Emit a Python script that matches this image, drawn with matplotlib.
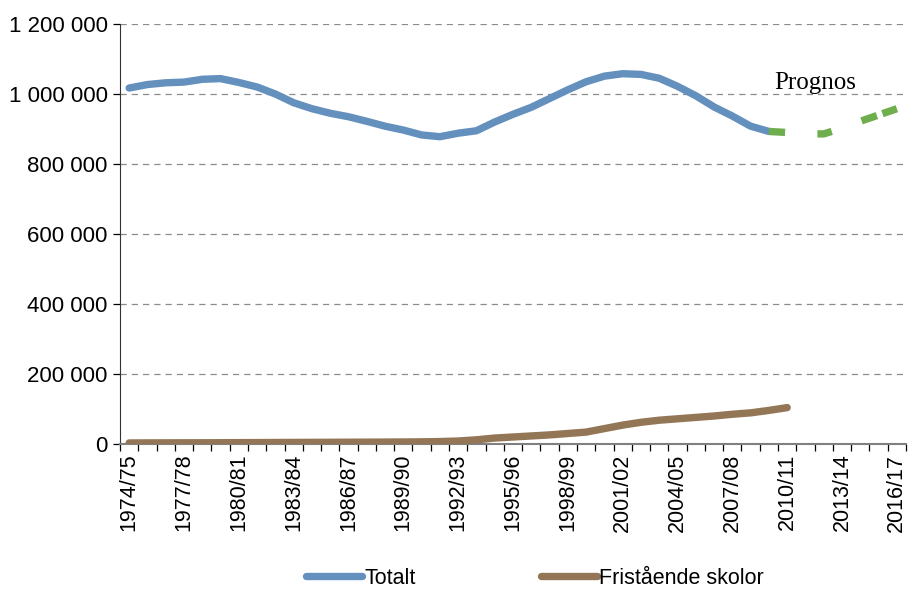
import numpy as np
import matplotlib
matplotlib.use("Agg")
from matplotlib import pyplot as plt
from matplotlib.lines import Line2D

plt.rcParams['font.family'] = ['Liberation Sans', 'DejaVu Sans']

# lasår 1974/75 .. 2016/17
years = ["%d/%02d" % (y, (y + 1) % 100) for y in range(1974, 2017)]

# Totalt, 1974/75 .. 2009/10
totalt = [1017000, 1027000, 1032000, 1034000, 1042000, 1044000, 1033000, 1020000,
          1000000, 975000, 958000, 945000, 935000, 922000, 908000, 897000,
          883000, 878000, 888000, 895000, 920000, 942000, 962000, 987000,
          1012000, 1035000, 1051000, 1058000, 1056000, 1045000, 1022000, 995000,
          963000, 937000, 908000, 893000]

# Prognos, 2009/10 .. 2016/17
prognos = [893000, 890000, 886000, 886000, 902000, 922000, 940000, 958000]

# Fristående skolor, 1974/75 .. 2010/11
fristaende = [3000, 3200, 3300, 3400, 3500, 3700, 3900, 4100, 4300, 4500, 4700,
              4900, 5100, 5300, 5500, 5800, 6200, 7000, 8500, 12000, 17000, 20000,
              23000, 26000, 30000, 34000, 44000, 54000, 62000, 68000, 72000, 76000,
              80000, 85000, 89000, 96000, 104000]

yticks = [0, 200000, 400000, 600000, 800000, 1000000, 1200000]

blue = "#6490BE"
brown = "#927656"
green = "#6EAE4D"
lw = 5.3

fig = plt.figure(figsize=(9.13, 5.90), dpi=100)
ax = fig.add_axes([120 / 913, 1 - 444 / 590, 786 / 913, 420 / 590])

x_tot = np.arange(len(totalt))
x_pro = np.arange(len(totalt) - 1, len(totalt) - 1 + len(prognos))
x_fri = np.arange(len(fristaende))

ax.plot(x_tot, totalt, color=blue, lw=lw, solid_capstyle='round', solid_joinstyle='round', zorder=3)
ax.plot(x_pro, prognos, color=green, lw=lw, linestyle=(0, (2.2, 4.4, 2.0, 4.3, 2.2, 0.8)),
        dash_capstyle='butt', zorder=3)
ax.plot(x_fri, fristaende, color=brown, lw=lw, solid_capstyle='round', solid_joinstyle='round', zorder=3)

ax.text(35.3, 1000000, "Prognos", family=['Liberation Serif', 'DejaVu Serif'], fontsize=18, ha='left', va='bottom')

ax.set_xlim(-0.5, len(years) - 0.5)
ax.set_ylim(0, 1200000)
ax.set_yticks(yticks)
ax.set_yticklabels(["{:,}".format(v).replace(",", " ") for v in yticks], fontsize=16)
ax.yaxis.grid(True, linestyle=(0, (5, 4)), color="#8c8c8c", lw=0.9)
ax.set_axisbelow(True)

ax.set_xticks(np.arange(0, len(years), 3))
ax.set_xticklabels(years[::3], rotation=90, fontsize=15.5)
ax.set_xticks(np.arange(-0.5, len(years), 1), minor=True)
ax.tick_params(axis='x', which='major', length=0, pad=7)
ax.tick_params(axis='x', which='minor', length=5, width=0.9, direction='out')
ax.tick_params(axis='y', length=5, width=0.9, direction='out', pad=4)

for s in ['top', 'right']:
    ax.spines[s].set_visible(False)
ax.spines['left'].set_color("#333333")
ax.spines['bottom'].set_color("#808080")
ax.spines['bottom'].set_linewidth(1.5)

handles = [Line2D([], [], color=blue, lw=lw, solid_capstyle='round'),
           Line2D([], [], color=brown, lw=lw, solid_capstyle='round')]
fig.legend(handles, ["Totalt", "Fristående skolor"], loc='center', bbox_to_anchor=(535 / 913, 1 - 578 / 590),
           ncol=2, frameon=False, fontsize=15.5, handlelength=2.6, handletextpad=0.1, columnspacing=5.8)

fig.savefig("out.png", dpi=100)
